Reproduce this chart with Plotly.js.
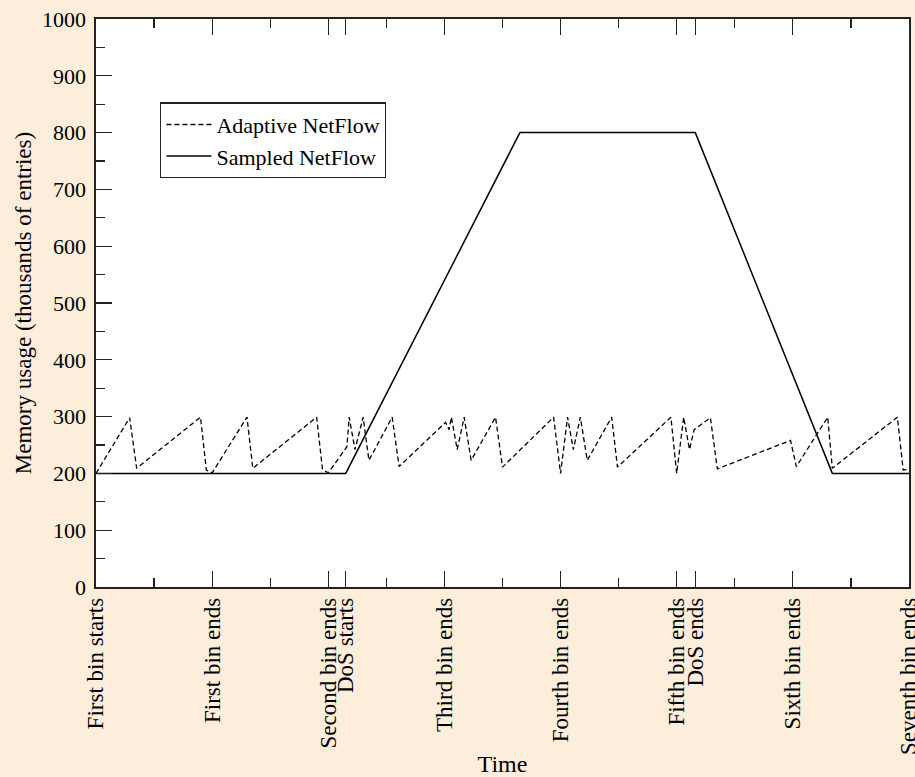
<!DOCTYPE html>
<html>
<head>
<meta charset="utf-8">
<script src="https://cdn.plot.ly/plotly-3.0.1.min.js"></script>
<style>
  html, body { margin: 0; padding: 0; background: #FDEEDC; }
  #chart { width: 915px; height: 777px; }
</style>
</head>
<body>
<div id="chart"></div>
<script>
// Time axis in units of "bins" (0 = first bin starts, 7 = seventh bin ends)
const tickPositions = [0, 1, 2, 2.15, 3, 4, 5, 5.16, 6, 7];
const tickLabels = ["First bin starts", "First bin ends", "Second bin ends", "DoS starts",
  "Third bin ends", "Fourth bin ends", "Fifth bin ends", "DoS ends", "Sixth bin ends", "Seventh bin ends"];
const minorTickPositions = [0.5, 1.5, 2.5, 3.5, 4.5, 5.5, 6.5];

const adaptiveX = [0, 0.29, 0.35, 0.90, 0.95, 1.0, 1.30, 1.35, 1.90, 1.95, 2.0, 2.16, 2.18, 2.23, 2.30, 2.35,
  2.55, 2.61, 3.01, 3.04, 3.06, 3.11, 3.17, 3.23, 3.44, 3.50, 3.94, 4.0, 4.06, 4.11, 4.17, 4.23,
  4.44, 4.49, 4.95, 5.0, 5.06, 5.11, 5.15, 5.29, 5.35, 5.98, 6.03, 6.30, 6.34, 6.90, 6.95, 7.0];
const adaptiveY = [200, 298, 209, 299, 206, 201, 299, 209, 299, 207, 201, 247, 299, 242, 299, 223,
  299, 212, 290, 277, 299, 242, 299, 223, 299, 211, 299, 200, 299, 242, 299, 223,
  299, 211, 299, 200, 299, 242, 277, 298, 208, 258, 212, 299, 209, 299, 206, 207];

const sampledX = [0, 2.15, 3.65, 5.16, 6.34, 7];
const sampledY = [200, 200, 800, 800, 200, 200];

const serif = "Liberation Serif, Times New Roman, serif";

const traces = [
  { x: adaptiveX, y: adaptiveY, mode: "lines", name: "Adaptive NetFlow",
    line: { color: "#000", width: 1.3, dash: "5px,3px" } },
  { x: sampledX, y: sampledY, mode: "lines", name: "Sampled NetFlow",
    line: { color: "#000", width: 1.5 } }
];

const layout = {
  width: 915, height: 777,
  paper_bgcolor: "#FDEEDC",
  plot_bgcolor: "#FFFFFF",
  margin: { l: 96, r: 6, t: 19, b: 190 },
  showlegend: true,
  legend: {
    x: 0.079, y: 0.853, xanchor: "left", yanchor: "top",
    bgcolor: "#FFFFFF", bordercolor: "#222", borderwidth: 1.2,
    font: { family: serif, size: 22, color: "#000" },
    itemwidth: 45,
    tracegroupgap: 0
  },
  xaxis: {
    range: [0, 7],
    tickmode: "array", tickvals: tickPositions, ticktext: tickLabels,
    tickangle: -90,
    ticklabeloverflow: "allow",
    ticklabelstandoff: 0,
    ticks: "inside", ticklen: 16, tickwidth: 1.2, tickcolor: "#222",
    minor: { tickmode: "array", tickvals: minorTickPositions, ticks: "inside", ticklen: 9, tickwidth: 1.2, tickcolor: "#222", showgrid: false },
    showline: true, linecolor: "#222", linewidth: 1.6, mirror: "ticks",
    showgrid: false, zeroline: false,
    tickfont: { family: serif, size: 23, color: "#000" },
    title: { text: "Time", font: { family: serif, size: 24, color: "#000" }, standoff: 9 }
  },
  yaxis: {
    range: [0, 1000],
    tickmode: "linear", tick0: 0, dtick: 100,
    ticklabelstandoff: 4,
    ticks: "inside", ticklen: 16, tickwidth: 1.2, tickcolor: "#222",
    minor: { dtick: 50, ticks: "inside", ticklen: 9, tickwidth: 1.2, tickcolor: "#222", showgrid: false },
    showline: true, linecolor: "#222", linewidth: 1.6, mirror: true,
    showgrid: false, zeroline: false,
    tickfont: { family: serif, size: 22, color: "#000" },
    title: { text: "Memory usage (thousands of entries)", font: { family: serif, size: 23, color: "#000" }, standoff: 4 }
  }
};

Plotly.newPlot("chart", traces, layout, { displayModeBar: false, staticPlot: true });
</script>
</body>
</html>
